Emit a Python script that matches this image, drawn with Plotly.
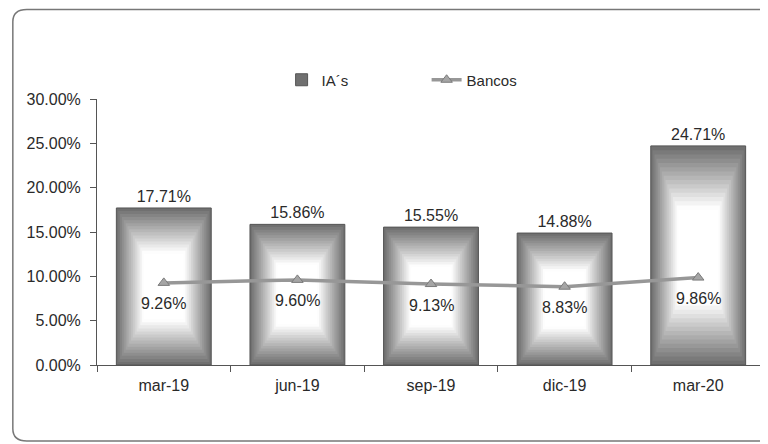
import plotly.graph_objects as go

periods = ["mar-19", "jun-19", "sep-19", "dic-19", "mar-20"]
ias = [0.1771, 0.1586, 0.1555, 0.1488, 0.2471]
bancos = [0.0926, 0.0960, 0.0913, 0.0883, 0.0986]

FONT = "Liberation Sans, Arial, sans-serif"
BAR_WIDTH = 0.71
N_LAYERS = 18

fig = go.Figure()
# layers drawn on top of each other to fake the "from centre" gradient of the original
for i in range(N_LAYERS):
    t = i / (N_LAYERS - 1)
    f = 1.0 - 0.66 * t
    g = int(112 + (255 - 112) * min(1.0, t * 1.2))
    shade = f"rgb({g},{g},{g})"
    first = i == 0
    fig.add_trace(
        go.Bar(
            x=periods,
            y=[v * f for v in ias],
            base=[v * (1 - f) / 2 for v in ias],
            width=BAR_WIDTH * f,
            name="IA´s",
            showlegend=first,
            marker=dict(color=shade, line=dict(color="#555555" if first else shade, width=1 if first else 0)),
            text=[f"{v:.2%}" for v in ias] if first else None,
            textposition="outside",
            textfont=dict(family=FONT, size=16, color="#2a2a2a"),
            cliponaxis=False,
            hoverinfo=None if first else "skip",
        )
    )

fig.add_trace(
    go.Scatter(
        x=periods,
        y=bancos,
        name="Bancos",
        mode="lines+markers",
        line=dict(color="#979797", width=3.5),
        marker=dict(symbol="triangle-up", size=10, color="#a5a5a5", line=dict(color="#7a7a7a", width=1)),
    )
)

# Bancos labels sit a bit further under the line than plotly's text offset
for p, v in zip(periods, bancos):
    fig.add_annotation(
        x=p, y=v, text=f"{v:.2%}", showarrow=False, yshift=-21,
        font=dict(family=FONT, size=16, color="#2a2a2a"),
    )

fig.update_layout(
    width=760,
    height=436,
    barmode="overlay",
    plot_bgcolor="white",
    paper_bgcolor="white",
    margin=dict(l=89, r=3, t=91, b=79, autoexpand=False),
    font=dict(family=FONT, size=16, color="#2a2a2a"),
    legend=dict(
        orientation="h",
        xref="container",
        yref="container",
        x=0.36,
        xanchor="left",
        y=1 - 72 / 436,
        yanchor="middle",
        font=dict(family=FONT, size=15, color="#2a2a2a"),
        traceorder="normal",
        entrywidth=100,
    ),
    xaxis=dict(
        showline=True,
        linecolor="#555555",
        linewidth=1,
        ticks="outside",
        tickson="boundaries",
        ticklen=6,
        tickcolor="#555555",
        showgrid=False,
        ticklabelstandoff=6,
        tickfont=dict(family=FONT, size=16, color="#2a2a2a"),
    ),
    yaxis=dict(
        range=[0, 0.30],
        dtick=0.05,
        tickformat=".2%",
        showline=True,
        linecolor="#555555",
        linewidth=1,
        ticks="outside",
        ticklen=6,
        tickcolor="#555555",
        showgrid=False,
        zeroline=False,
        ticklabelstandoff=6,
        tickfont=dict(family=FONT, size=16, color="#2a2a2a"),
    ),
    shapes=[
        dict(
            type="path",
            xref="paper",
            yref="paper",
            path="M 1.02,1.336 L -0.105,1.336 Q -0.126,1.336 -0.126,1.29 L -0.126,-0.24 Q -0.126,-0.286 -0.105,-0.286 L 1.02,-0.286",
            line=dict(color="#777777", width=1.5),
            layer="below",
        )
    ],
)

fig.write_html("out.html")
